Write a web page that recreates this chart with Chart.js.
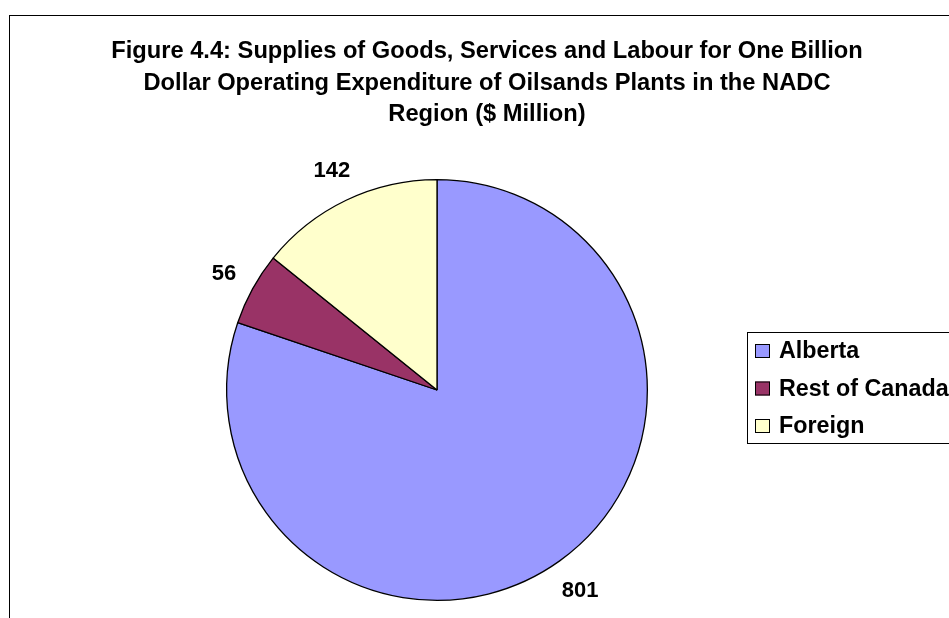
<!DOCTYPE html>
<html>
<head>
<meta charset="utf-8">
<title>Figure 4.4</title>
<script src="https://cdn.jsdelivr.net/npm/chart.js@4.4.1/dist/chart.umd.min.js"></script>
<style>
  html, body { margin: 0; padding: 0; background: #fff; overflow: hidden; }
  #wrap { width: 949px; height: 618px; }
</style>
</head>
<body>
<div id="wrap"><canvas id="pie" width="949" height="618"></canvas></div>
<script>
// Values ($ million per $1 billion of operating spend)
var regions = ['Alberta', 'Rest of Canada', 'Foreign'];
var supplies = [801, 56, 142];
var sliceColors = ['#9999FF', '#993366', '#FFFFCC'];
var titleLines = [
  'Figure 4.4: Supplies of Goods, Services and Labour for One Billion',
  'Dollar Operating Expenditure of Oilsands Plants in the NADC',
  'Region ($ Million)'
];

var FONT = '"Liberation Sans", Arial, sans-serif';

// Frame, title, outside value labels and the boxed legend (Excel look)
var decorPlugin = {
  id: 'decor',
  afterDraw: function (chart) {
    var ctx = chart.ctx;
    ctx.save();
    ctx.strokeStyle = '#000';
    ctx.lineWidth = 1;
    ctx.strokeRect(9.5, 15.5, 1000, 1000);

    // Title
    ctx.fillStyle = '#000';
    ctx.font = 'bold 23.7px ' + FONT;
    ctx.textAlign = 'center';
    ctx.textBaseline = 'alphabetic';
    titleLines.forEach(function (line, i) {
      ctx.fillText(line, 487, 58 + i * 31.7);
    });

    // Value labels just outside each slice
    var meta = chart.getDatasetMeta(0);
    var values = chart.data.datasets[0].data;
    ctx.font = 'bold 22px ' + FONT;
    ctx.textBaseline = 'middle';
    meta.data.forEach(function (arc, i) {
      var p = arc.getProps(['x', 'y', 'startAngle', 'endAngle', 'outerRadius'], true);
      var mid = (p.startAngle + p.endAngle) / 2;
      var c = Math.cos(mid), s = Math.sin(mid);
      var text = String(values[i]);
      var w = ctx.measureText(text).width;
      var d = p.outerRadius + 18 + Math.abs(c) * w / 2 + Math.abs(s) * 8;
      ctx.fillText(text, p.x + c * d, p.y + s * d + 1);
    });

    // Legend
    ctx.strokeRect(747.5, 332.5, 300, 111);
    ctx.font = 'bold 23.3px ' + FONT;
    ctx.textAlign = 'left';
    ctx.textBaseline = 'alphabetic';
    chart.data.labels.forEach(function (label, i) {
      var base = 358 + i * 37.5;
      ctx.fillStyle = chart.data.datasets[0].backgroundColor[i];
      ctx.fillRect(755, base - 14, 15, 14);
      ctx.strokeRect(755.5, base - 13.5, 14, 13);
      ctx.fillStyle = '#000';
      ctx.fillText(label, 779, base);
    });
    ctx.restore();
  }
};

new Chart(document.getElementById('pie'), {
  type: 'pie',
  data: {
    labels: regions,
    datasets: [{
      data: supplies,
      backgroundColor: sliceColors,
      borderColor: '#000',
      borderWidth: 1.3
    }]
  },
  options: {
    responsive: false,
    animation: false,
    devicePixelRatio: 1,
    layout: { padding: { left: 226, right: 301, top: 179, bottom: 17 } },
    plugins: {
      legend: { display: false },
      title: { display: false },
      tooltip: { enabled: false }
    }
  },
  plugins: [decorPlugin]
});
</script>
</body>
</html>
